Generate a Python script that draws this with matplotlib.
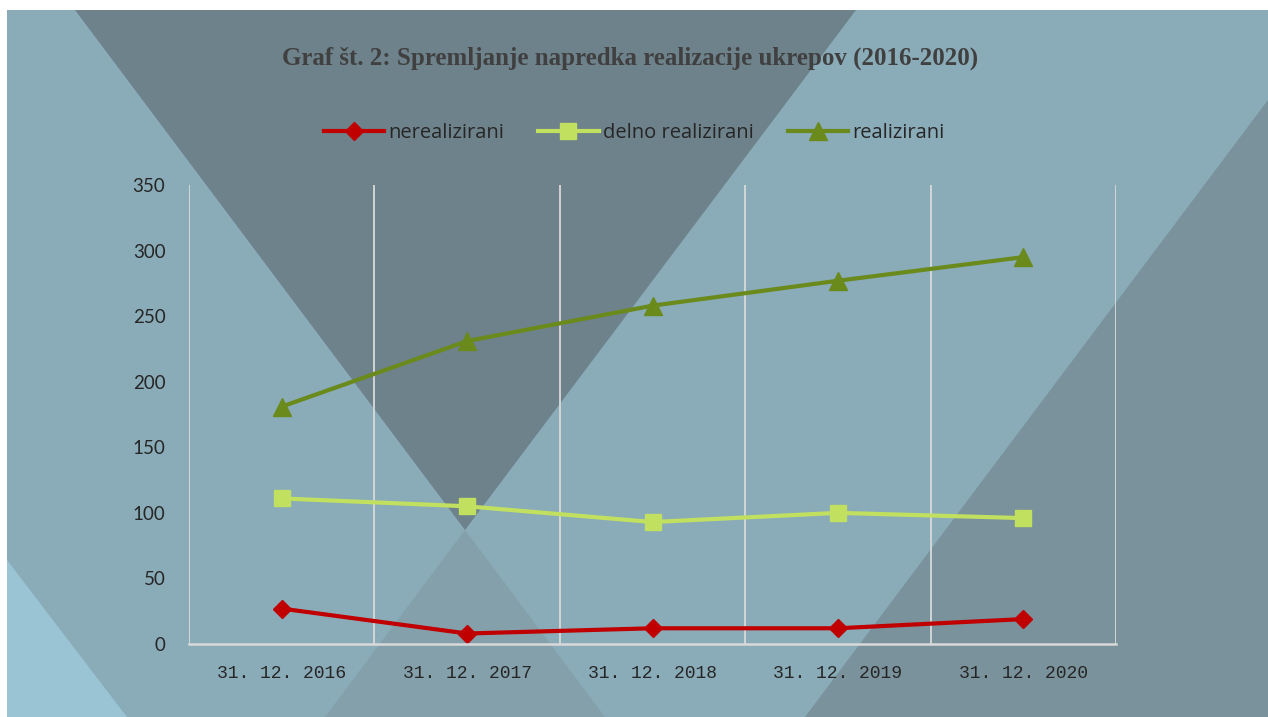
import matplotlib
matplotlib.use('Agg')
import matplotlib.pyplot as plt
from matplotlib.patches import Polygon

# podatki
kategorije = ['31. 12. 2016', '31. 12. 2017', '31. 12. 2018', '31. 12. 2019', '31. 12. 2020']
nerealizirani = [27, 8, 12, 12, 19]
delno_realizirani = [111, 105, 93, 100, 96]
realizirani = [181, 231, 258, 277, 295]
y_ticks = [0, 50, 100, 150, 200, 250, 300, 350]

fig = plt.figure(figsize=(12.68, 7.17), dpi=100)
fig.patch.set_facecolor('white')

# ozadje (dekorativni liki), v pikslih
bg = fig.add_axes([0, 0, 1, 1], zorder=-1)
bg.set_xlim(0, 1268)
bg.set_ylim(717, 0)
bg.axis('off')
bg.add_patch(Polygon([(7, 10), (1268, 10), (1268, 717), (7, 717)], color='#8AABB8', lw=0))
bg.add_patch(Polygon([(7, 560), (127, 717), (7, 717)], color='#9AC3D3', lw=0))
bg.add_patch(Polygon([(75, 10), (856, 10), (465, 530)], color='#6E828B', lw=0))
bg.add_patch(Polygon([(465, 530), (605, 717), (325, 717)], color='#84A0AB', lw=0))
bg.add_patch(Polygon([(1268, 100), (1268, 717), (805, 717)], color='#7A929B', lw=0))

ax = fig.add_axes([189 / 1268, 1 - 644 / 717, (1116 - 189) / 1268, (644 - 185) / 717])
ax.patch.set_alpha(0)

x = range(len(kategorije))
ax.plot(x, nerealizirani, color='#C00000', lw=3, marker='D', ms=9, label='nerealizirani')
ax.plot(x, delno_realizirani, color='#C2E05F', lw=3, marker='s', ms=12, label='delno realizirani')
ax.plot(x, realizirani, color='#6A8A1C', lw=3, marker='^', ms=13, label='realizirani')

ax.set_xlim(-0.5, len(kategorije) - 0.5)
ax.set_ylim(0, 350)
ax.set_yticks(y_ticks)
ax.set_xticks(list(x))
ax.set_xticklabels(kategorije)

# navpične mrežne črte med kategorijami
for b in [i - 0.5 for i in range(len(kategorije) + 1)]:
    ax.axvline(b, color='#D9D9D9', lw=1.3, zorder=0)

for s in ['top', 'right', 'left']:
    ax.spines[s].set_visible(False)
ax.spines['bottom'].set_color('#D9D9D9')
ax.spines['bottom'].set_linewidth(1.8)
ax.tick_params(length=0)
ax.tick_params(axis='y', pad=17, labelsize=13.5, labelcolor='#262626')
ax.tick_params(axis='x', pad=15, labelsize=13, labelcolor='#262626')
for lab in ax.get_yticklabels():
    lab.set_fontfamily('Lato')
for lab in ax.get_xticklabels():
    lab.set_fontfamily('Liberation Mono')

fig.text(0.497, 0.919, 'Graf št. 2: Spremljanje napredka realizacije ukrepov (2016-2020)',
         ha='center', va='center', fontsize=18, fontweight='bold',
         family='Liberation Serif', color='#404040')

leg = fig.legend(loc='center', bbox_to_anchor=(0.5, 0.815), ncol=3, frameon=False,
                 prop={'family': 'Open Sans', 'size': 14.5}, handlelength=3.0,
                 columnspacing=1.7, handletextpad=0.2, labelcolor='#262626')

plt.savefig('out.png', dpi=100)
